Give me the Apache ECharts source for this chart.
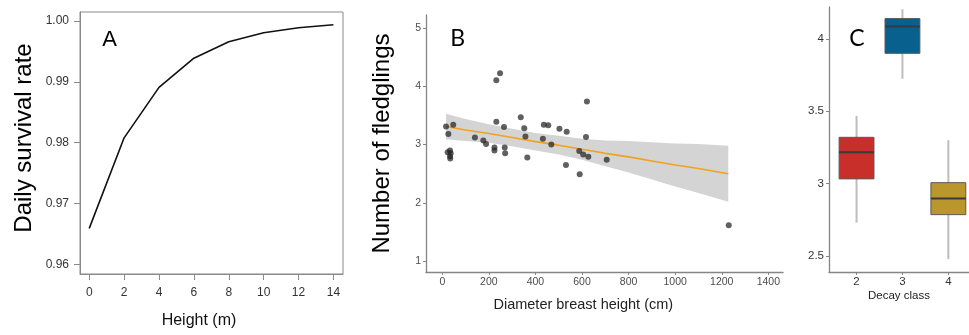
<!DOCTYPE html>
<html>
<head>
<meta charset="utf-8">
<script src="https://cdn.jsdelivr.net/npm/echarts@6.0.0/dist/echarts.min.js"></script>
<style>
html,body{margin:0;padding:0;background:#fff;}
#chart{width:969px;height:335px;}
</style>
</head>
<body>
<div id="chart"></div>
<script>
// ---- Panel A: daily survival rate vs height ----
const heightM = [0, 2, 4, 6, 8, 10, 12, 14];
const survival = [0.9659, 0.9808, 0.9891, 0.9939, 0.9966, 0.9981, 0.9989, 0.9994];
const heightTicks = [0, 2, 4, 6, 8, 10, 12, 14];
const survivalTicks = [0.96, 0.97, 0.98, 0.99, 1.00];

// ---- Panel B: fledglings vs diameter breast height ----
const dbh = [16, 26, 47, 23, 33, 36, 33, 34, 140, 176, 188, 224, 224, 232, 248, 232, 265, 268, 270,
  337, 352, 357, 365, 436, 432, 455, 468, 503, 534, 531, 588, 590, 605, 617, 621, 627, 706, 1230];
const fledglings = [3.31, 3.18, 3.34, 2.87, 2.90, 2.85, 2.80, 2.76, 3.12, 3.07, 3.01, 2.95, 2.90, 4.10, 4.22, 3.39, 3.30, 2.95, 2.85,
  3.47, 3.28, 3.14, 2.78, 3.34, 3.10, 3.33, 3.00, 3.27, 3.22, 2.65, 2.89, 2.49, 2.83, 3.13, 3.74, 2.79, 2.74, 1.62];
const fitX = [16, 100, 200, 300, 400, 500, 600, 700, 800, 900, 1000, 1100, 1228];
const fitY = [3.31, 3.25, 3.19, 3.12, 3.05, 2.99, 2.92, 2.85, 2.79, 2.72, 2.65, 2.59, 2.50];
const bandHigh = [3.53, 3.44, 3.35, 3.27, 3.20, 3.15, 3.10, 3.07, 3.06, 3.04, 3.02, 3.01, 2.98];
const bandLow = [3.09, 3.06, 3.03, 2.97, 2.90, 2.83, 2.74, 2.63, 2.52, 2.40, 2.28, 2.17, 2.02];
const dbhTicks = [0, 200, 400, 600, 800, 1000, 1200, 1400];
const fledgTicks = [1, 2, 3, 4, 5];

// ---- Panel C: fledglings by decay class (boxplots) ----
const decayClass = [2, 3, 4];
const whiskerLow = [2.731, 3.724, 2.479];
const q1 = [3.033, 3.900, 2.786];
const median = [3.217, 4.085, 2.897];
const q3 = [3.320, 4.140, 3.007];
const whiskerHigh = [3.468, 4.205, 3.300];
const decayTicks = [2, 3, 4];
const decayYTicks = [2.5, 3, 3.5, 4];

const boxColors = ['#c82f2a', '#08608f', '#b9972c'];

const chart = echarts.init(document.getElementById('chart'), null, {renderer: 'canvas'});

const font = '"Liberation Sans", Arial, sans-serif';
const ggAxisLine = {show: true, onZero: false, lineStyle: {color: '#858585', width: 1.3}};
const ggTick = {show: true, length: 3, lineStyle: {color: '#858585', width: 1}};

const option = {
  backgroundColor: '#ffffff',
  animation: false,
  grid: [
    {left: 80, top: 12, width: 263, height: 262, show: true, borderColor: '#8a8a8a', borderWidth: 1, backgroundColor: 'transparent'},
    {left: 426, top: 15, width: 357, height: 257},
    {left: 829, top: 7, width: 140, height: 265}
  ],
  xAxis: [
    {
      gridIndex: 0, type: 'value', min: -0.53, max: 14.55,
      splitLine: {show: false},
      axisLine: {show: true, onZero: false, lineStyle: {color: '#8a8a8a', width: 1}},
      axisTick: {show: true, length: 6, customValues: heightTicks, lineStyle: {color: '#8a8a8a'}},
      axisLabel: {customValues: heightTicks, color: '#333', fontSize: 12, fontFamily: font, margin: 13}
    },
    {
      gridIndex: 1, type: 'value', min: -70, max: 1463,
      splitLine: {show: false},
      axisLine: ggAxisLine,
      axisTick: Object.assign({customValues: dbhTicks}, ggTick),
      axisLabel: {customValues: dbhTicks, color: '#4d4d4d', fontSize: 10.5, fontFamily: font, margin: 5,
        formatter: v => String(v)}
    },
    {
      gridIndex: 2, type: 'value', min: 1.4, max: 4.45,
      splitLine: {show: false},
      axisLine: ggAxisLine,
      axisTick: Object.assign({customValues: decayTicks}, ggTick),
      axisLabel: {customValues: decayTicks, color: '#333', fontSize: 11.5, fontFamily: font, margin: 4}
    }
  ],
  yAxis: [
    {
      gridIndex: 0, type: 'value', min: 0.9584, max: 1.0015,
      splitLine: {show: false},
      axisLine: {show: true, onZero: false, lineStyle: {color: '#8a8a8a', width: 1}},
      axisTick: {show: true, length: 6, customValues: survivalTicks, lineStyle: {color: '#8a8a8a'}},
      axisLabel: {customValues: survivalTicks, color: '#333', fontSize: 12, fontFamily: font, margin: 11,
        formatter: v => v.toFixed(2)}
    },
    {
      gridIndex: 1, type: 'value', min: 0.817, max: 5.22,
      splitLine: {show: false},
      axisLine: ggAxisLine,
      axisTick: Object.assign({customValues: fledgTicks}, ggTick),
      axisLabel: {customValues: fledgTicks, color: '#4d4d4d', fontSize: 10.5, fontFamily: font, margin: 5}
    },
    {
      gridIndex: 2, type: 'value', min: 2.39, max: 4.22,
      splitLine: {show: false},
      axisLine: ggAxisLine,
      axisTick: Object.assign({customValues: decayYTicks}, ggTick),
      axisLabel: {customValues: decayYTicks, color: '#333', fontSize: 11.5, fontFamily: font, margin: 5}
    }
  ],
  series: [
    {
      type: 'line', xAxisIndex: 0, yAxisIndex: 0,
      data: heightM.map((h, i) => [h, survival[i]]),
      showSymbol: false, symbol: 'none',
      lineStyle: {color: '#111', width: 1.6}
    },
    {
      // confidence band as polygon through the axis scales
      type: 'custom', xAxisIndex: 1, yAxisIndex: 1, z: 1, silent: true,
      data: fitX.map((x, i) => [x, bandLow[i], bandHigh[i]]),
      encode: {x: 0, y: [1, 2]},
      renderItem: function (params, api) {
        if (params.dataIndex !== 0) return null;
        const upper = fitX.map((x, i) => api.coord([x, bandHigh[i]]));
        const lower = fitX.map((x, i) => api.coord([x, bandLow[i]])).reverse();
        return {
          type: 'polygon',
          shape: {points: upper.concat(lower)},
          style: {fill: '#d4d4d4'}
        };
      }
    },
    {
      type: 'line', xAxisIndex: 1, yAxisIndex: 1, z: 3,
      data: fitX.map((x, i) => [x, fitY[i]]),
      symbol: 'none', lineStyle: {color: '#f0a21e', width: 1.6}
    },
    {
      type: 'scatter', xAxisIndex: 1, yAxisIndex: 1, z: 4,
      data: dbh.map((x, i) => [x, fledglings[i]]),
      symbolSize: 6,
      itemStyle: {color: 'rgba(35,35,35,0.9)'}
    },
    {
      type: 'custom', xAxisIndex: 2, yAxisIndex: 2,
      data: decayClass.map((c, i) => [c, whiskerLow[i], q1[i], median[i], q3[i], whiskerHigh[i]]),
      encode: {x: 0, y: [1, 2, 3, 4, 5]},
      renderItem: function (params, api) {
        const x = api.value(0);
        const hw = 0.38;
        const lo = api.coord([x, api.value(1)]);
        const hi = api.coord([x, api.value(5)]);
        const pQ1L = api.coord([x - hw, api.value(2)]);
        const pQ3R = api.coord([x + hw, api.value(4)]);
        const mL = api.coord([x - hw, api.value(3)]);
        const mR = api.coord([x + hw, api.value(3)]);
        return {
          type: 'group',
          children: [
            {type: 'line', shape: {x1: lo[0], y1: lo[1], x2: hi[0], y2: hi[1]},
              style: {stroke: '#bdbdbd', lineWidth: 2}},
            {type: 'rect', shape: {x: pQ1L[0], y: pQ3R[1], width: pQ3R[0] - pQ1L[0], height: pQ1L[1] - pQ3R[1]},
              style: {fill: boxColors[params.dataIndex], stroke: '#5a5a5a', lineWidth: 1}},
            {type: 'line', shape: {x1: mL[0], y1: mL[1], x2: mR[0], y2: mR[1]},
              style: {stroke: '#3a3a3a', lineWidth: 2}}
          ]
        };
      }
    }
  ],
  graphic: [
    {type: 'text', x: 24.5, y: 138, rotation: Math.PI / 2,
      style: {text: 'Daily survival rate', font: '24px ' + font, fill: '#000', align: 'center', verticalAlign: 'middle'}},
    {type: 'text', x: 199, y: 321,
      style: {text: 'Height (m)', font: '16px ' + font, fill: '#111', align: 'center', verticalAlign: 'middle'}},
    {type: 'text', x: 109.5, y: 40,
      style: {text: 'A', font: '22px ' + font, fill: '#000', align: 'center', verticalAlign: 'middle'}},
    {type: 'text', x: 382, y: 143.5, rotation: Math.PI / 2,
      style: {text: 'Number of fledglings', font: '24px ' + font, fill: '#000', align: 'center', verticalAlign: 'middle'}},
    {type: 'text', x: 583.3, y: 305,
      style: {text: 'Diameter breast height (cm)', font: '14.5px ' + font, fill: '#222', align: 'center', verticalAlign: 'middle'}},
    {type: 'text', x: 457.7, y: 38.5,
      style: {text: 'B', font: '23px Lato, "Open Sans", sans-serif', fill: '#000', align: 'center', verticalAlign: 'middle'}},
    {type: 'text', x: 857, y: 38.7,
      style: {text: 'C', font: '23px Lato, "Open Sans", sans-serif', fill: '#000', align: 'center', verticalAlign: 'middle'}},
    {type: 'text', x: 899, y: 296,
      style: {text: 'Decay class', font: '11.5px ' + font, fill: '#222', align: 'center', verticalAlign: 'middle'}}
  ]
};
chart.setOption(option);
</script>
</body>
</html>
